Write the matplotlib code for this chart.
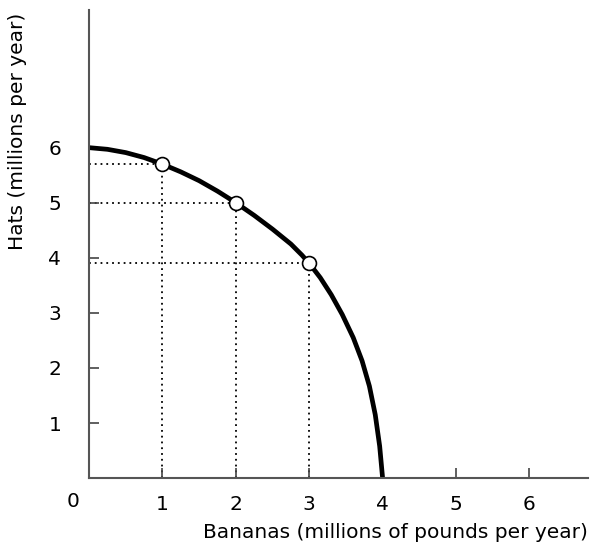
import matplotlib
matplotlib.use("Agg")
import matplotlib.pyplot as plt

# production possibilities frontier
curve_x = [0.0, 0.25, 0.5, 0.75, 1.0, 1.25, 1.5, 1.75, 2.0, 2.25, 2.5, 2.75,
           2.9, 3.0, 3.15, 3.3, 3.45, 3.6, 3.72, 3.82, 3.9, 3.96, 4.0]
curve_y = [6.0, 5.97, 5.91, 5.82, 5.7, 5.56, 5.4, 5.21, 5.0, 4.77, 4.52, 4.25,
           4.05, 3.9, 3.64, 3.33, 2.97, 2.55, 2.13, 1.67, 1.15, 0.58, 0.0]

points_x = [1, 2, 3]
points_y = [5.7, 5.0, 3.9]

ticks = [1, 2, 3, 4, 5, 6]

plt.rcParams["font.family"] = ["DejaVu Sans"]

fig = plt.figure(figsize=(5.94, 5.54), dpi=100)
ax = fig.add_axes([0.15, 0.137, 0.84, 0.845])

# dotted guide lines
for px, py in zip(points_x, points_y):
    ax.plot([0, px], [py, py], color="black", lw=1.3, ls=(0, (1, 2.2)), zorder=1)
    ax.plot([px, px], [0, py], color="black", lw=1.3, ls=(0, (1, 2.2)), zorder=1)

ax.plot(curve_x, curve_y, color="black", lw=3.4, solid_capstyle="butt",
        solid_joinstyle="round", zorder=2)
ax.plot(points_x, points_y, "o", ms=10, mfc="white", mec="black", mew=1.2, zorder=3)

ax.set_xlim(0, 6.8)
ax.set_ylim(0, 8.5)
ax.set_xticks(ticks)
ax.set_yticks(ticks)
ax.tick_params(direction="in", length=7, width=1.2, color="#444444",
               labelsize=14.5, pad=12)
ax.tick_params(axis="y", pad=20)

for side in ["top", "right"]:
    ax.spines[side].set_visible(False)
for side in ["left", "bottom"]:
    ax.spines[side].set_color("#555555")
    ax.spines[side].set_linewidth(1.5)

ax.text(-0.22, -0.42, "0", fontsize=14.5, ha="center", va="center",
        transform=ax.transData, clip_on=False)

ax.set_xlabel("Bananas (millions of pounds per year)", fontsize=14.5)
ax.xaxis.set_label_coords(1.0, -0.095)
ax.xaxis.label.set_horizontalalignment("right")
ax.set_ylabel("Hats (millions per year)", fontsize=14.5)
ax.yaxis.set_label_coords(-0.125, 0.74)

fig.savefig("out.png", dpi=100)
